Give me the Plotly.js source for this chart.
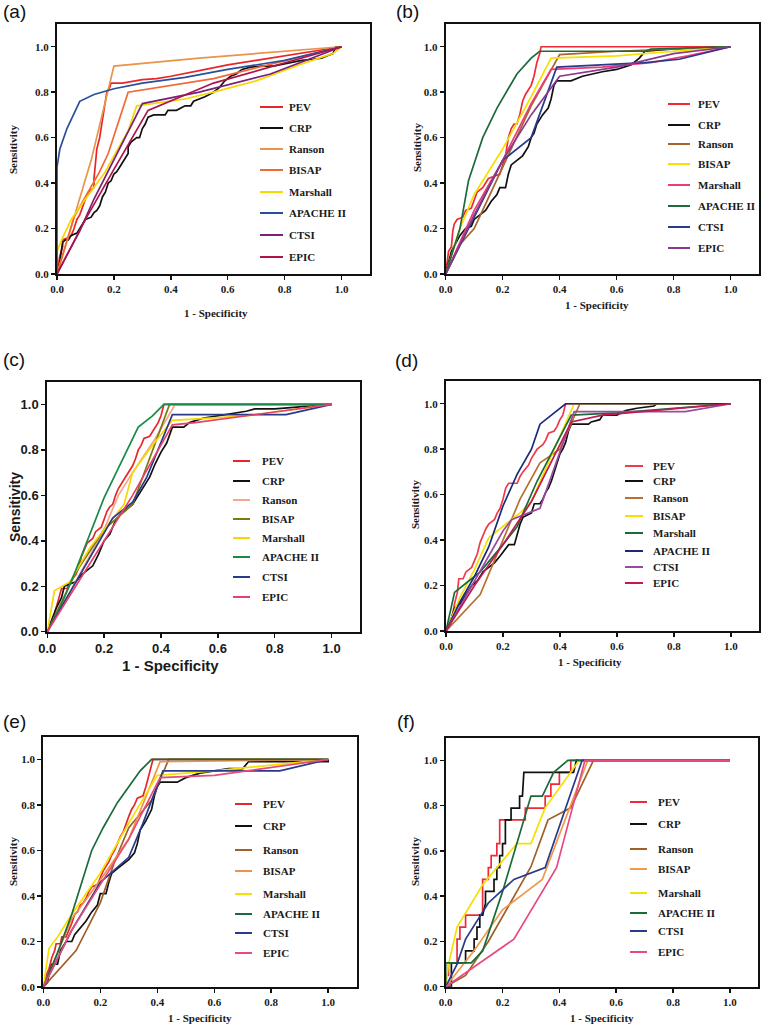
<!DOCTYPE html>
<html>
<head>
<meta charset="utf-8">
<script src="https://cdn.plot.ly/plotly-3.0.1.min.js"></script>
<style>html,body{margin:0;padding:0;background:#fff;}#chart{width:763px;height:1028px;}</style>
</head>
<body>
<div id="chart"></div>
<script>
// ---------- DATA ----------
const seriesNames = ["PEV","CRP","Ranson","BISAP","Marshall","APACHE II","CTSI","EPIC"];
const panelLabels = ["(a)","(b)","(c)","(d)","(e)","(f)"];
const tickVals = [0,0.2,0.4,0.6,0.8,1.0];
const tickText = ["0.0","0.2","0.4","0.6","0.8","1.0"];
const xTitle = "1 - Specificity";
const yTitle = "Sensitivity";

// Panel (a)
const a_PEV = [[0,0],[0.01,0.08],[0.02,0.12],[0.02,0.15],[0.04,0.16],[0.05,0.17],[0.06,0.2],[0.07,0.24],[0.08,0.26],[0.09,0.3],[0.1,0.33],[0.11,0.36],[0.12,0.37],[0.13,0.38],[0.13,0.42],[0.135,0.5],[0.14,0.55],[0.15,0.6],[0.155,0.64],[0.16,0.68],[0.17,0.75],[0.175,0.8],[0.185,0.82],[0.19,0.84],[0.23,0.84],[0.3,0.855],[0.35,0.86],[0.4,0.87],[0.5,0.895],[0.6,0.92],[0.7,0.94],[0.8,0.96],[0.9,0.98],[1,1]];
const a_CRP = [[0,0],[0.01,0.05],[0.015,0.1],[0.02,0.14],[0.03,0.15],[0.04,0.15],[0.05,0.17],[0.07,0.18],[0.08,0.2],[0.09,0.22],[0.1,0.24],[0.12,0.25],[0.13,0.27],[0.14,0.28],[0.15,0.3],[0.16,0.34],[0.17,0.36],[0.18,0.4],[0.19,0.41],[0.2,0.44],[0.21,0.45],[0.22,0.47],[0.23,0.49],[0.24,0.51],[0.25,0.53],[0.25,0.56],[0.26,0.58],[0.27,0.59],[0.28,0.6],[0.29,0.6],[0.3,0.64],[0.31,0.66],[0.32,0.69],[0.34,0.7],[0.38,0.7],[0.39,0.72],[0.42,0.72],[0.45,0.74],[0.47,0.74],[0.48,0.76],[0.52,0.78],[0.55,0.8],[0.57,0.82],[0.59,0.85],[0.61,0.87],[0.63,0.88],[0.65,0.9],[0.68,0.91],[0.72,0.915],[0.76,0.915],[0.8,0.925],[0.83,0.93],[0.86,0.94],[0.9,0.945],[0.93,0.95],[0.95,0.96],[0.97,0.97],[0.98,1],[1,1]];
const a_Ranson = [[0,0],[0.12,0.5],[0.2,0.915],[0.5,0.95],[1,1]];
const a_BISAP = [[0,0],[0.06,0.25],[0.1,0.34],[0.15,0.45],[0.18,0.53],[0.25,0.8],[0.55,0.86],[1,1]];
const a_Marshall = [[0,0],[0,0.1],[0.02,0.16],[0.05,0.24],[0.1,0.33],[0.17,0.45],[0.2,0.52],[0.25,0.63],[0.28,0.74],[0.45,0.77],[0.55,0.8],[0.7,0.85],[0.85,0.92],[0.97,0.97],[1,1]];
const a_APACHE = [[0,0],[0,0.47],[0.01,0.55],[0.035,0.64],[0.08,0.76],[0.13,0.79],[0.2,0.815],[0.3,0.84],[0.45,0.865],[0.6,0.9],[0.8,0.94],[1,1]];
const a_CTSI = [[0,0],[0.08,0.19],[0.13,0.33],[0.2,0.5],[0.3,0.75],[0.5,0.8],[0.75,0.88],[1,1]];
const a_EPIC = [[0,0],[0.1,0.24],[0.2,0.46],[0.32,0.72],[0.55,0.84],[0.8,0.93],[1,1]];

// Panel (b)
const b_PEV = [[0,0],[0.005,0.05],[0.01,0.1],[0.02,0.12],[0.025,0.19],[0.03,0.22],[0.04,0.24],[0.06,0.25],[0.07,0.28],[0.09,0.29],[0.1,0.33],[0.11,0.36],[0.13,0.38],[0.15,0.42],[0.17,0.43],[0.19,0.44],[0.2,0.48],[0.21,0.52],[0.22,0.6],[0.23,0.64],[0.24,0.66],[0.25,0.66],[0.26,0.7],[0.27,0.76],[0.28,0.79],[0.29,0.81],[0.3,0.83],[0.31,0.87],[0.32,0.93],[0.33,0.97],[0.335,1],[1,1]];
const b_CRP = [[0,0],[0.02,0.1],[0.05,0.17],[0.07,0.2],[0.09,0.21],[0.1,0.24],[0.12,0.26],[0.14,0.28],[0.16,0.32],[0.18,0.35],[0.19,0.38],[0.21,0.38],[0.22,0.44],[0.23,0.48],[0.25,0.5],[0.27,0.52],[0.29,0.56],[0.3,0.6],[0.31,0.62],[0.32,0.66],[0.34,0.7],[0.36,0.73],[0.37,0.77],[0.38,0.83],[0.39,0.85],[0.44,0.85],[0.48,0.87],[0.55,0.89],[0.6,0.9],[0.65,0.92],[0.68,0.95],[0.7,0.98],[0.8,0.99],[1,1]];
const b_Ranson = [[0,0],[0.05,0.13],[0.1,0.2],[0.2,0.47],[0.3,0.74],[0.4,0.965],[0.6,0.98],[1,1]];
const b_BISAP = [[0,0],[0.05,0.2],[0.1,0.35],[0.2,0.55],[0.3,0.78],[0.37,0.95],[0.6,0.96],[0.75,0.975],[1,1]];
const b_Marshall = [[0,0],[0.1,0.28],[0.2,0.5],[0.3,0.75],[0.37,0.9],[0.55,0.91],[0.72,0.93],[0.85,0.96],[1,1]];
const b_APACHE = [[0,0],[0.05,0.2],[0.08,0.41],[0.13,0.6],[0.18,0.73],[0.25,0.88],[0.3,0.95],[0.33,0.98],[0.7,0.98],[0.72,0.99],[1,1]];
const b_CTSI = [[0,0],[0.1,0.25],[0.2,0.5],[0.3,0.6],[0.39,0.91],[0.7,0.93],[0.82,0.945],[1,1]];
const b_EPIC = [[0,0],[0.1,0.26],[0.2,0.5],[0.3,0.7],[0.4,0.87],[0.6,0.91],[0.8,0.97],[1,1]];

// Panel (c)
const c_PEV = [[0,0],[0.02,0.05],[0.03,0.1],[0.04,0.14],[0.05,0.19],[0.07,0.19],[0.08,0.22],[0.1,0.25],[0.11,0.28],[0.12,0.33],[0.13,0.36],[0.14,0.39],[0.16,0.41],[0.17,0.44],[0.19,0.46],[0.2,0.5],[0.21,0.53],[0.22,0.55],[0.23,0.56],[0.24,0.6],[0.25,0.63],[0.26,0.65],[0.27,0.67],[0.28,0.69],[0.3,0.73],[0.31,0.76],[0.32,0.8],[0.33,0.82],[0.34,0.85],[0.36,0.86],[0.37,0.88],[0.38,0.9],[0.39,0.92],[0.4,0.95],[0.41,1],[1,1]];
const c_CRP = [[0,0],[0.03,0.1],[0.05,0.15],[0.06,0.2],[0.08,0.21],[0.1,0.22],[0.12,0.25],[0.14,0.27],[0.16,0.29],[0.18,0.34],[0.2,0.4],[0.22,0.43],[0.24,0.49],[0.26,0.52],[0.28,0.54],[0.3,0.56],[0.32,0.6],[0.34,0.64],[0.36,0.68],[0.38,0.74],[0.4,0.79],[0.42,0.83],[0.43,0.87],[0.44,0.9],[0.48,0.9],[0.5,0.92],[0.55,0.94],[0.6,0.95],[0.66,0.96],[0.7,0.97],[0.73,0.98],[0.8,0.98],[1,1]];
const c_Ranson = [[0,0],[0.1,0.22],[0.2,0.45],[0.25,0.6],[0.3,0.7],[0.38,0.85],[0.45,1],[1,1]];
const c_BISAP = [[0,0],[0.1,0.26],[0.2,0.45],[0.3,0.56],[0.43,1],[1,1]];
const c_Marshall = [[0,0],[0.025,0.18],[0.08,0.22],[0.15,0.37],[0.2,0.45],[0.27,0.56],[0.3,0.7],[0.37,0.82],[0.44,0.93],[0.7,0.95],[1,1]];
const c_APACHE = [[0,0],[0.05,0.12],[0.1,0.27],[0.15,0.43],[0.2,0.59],[0.25,0.72],[0.3,0.85],[0.32,0.9],[0.37,0.95],[0.41,1],[1,1]];
const c_CTSI = [[0,0],[0.1,0.22],[0.2,0.44],[0.23,0.5],[0.3,0.57],[0.35,0.68],[0.44,0.955],[0.84,0.955],[1,1]];
const c_EPIC = [[0,0],[0.1,0.2],[0.2,0.4],[0.3,0.6],[0.44,0.91],[0.52,0.92],[1,1]];

// Panel (d)
const d_PEV = [[0,0],[0.02,0.05],[0.03,0.12],[0.04,0.17],[0.045,0.23],[0.06,0.23],[0.07,0.26],[0.09,0.28],[0.1,0.31],[0.11,0.34],[0.12,0.39],[0.13,0.42],[0.14,0.45],[0.15,0.47],[0.17,0.49],[0.18,0.52],[0.19,0.54],[0.2,0.58],[0.21,0.63],[0.22,0.65],[0.25,0.65],[0.26,0.68],[0.27,0.7],[0.29,0.73],[0.3,0.76],[0.31,0.78],[0.32,0.8],[0.34,0.82],[0.35,0.84],[0.36,0.87],[0.38,0.88],[0.39,0.9],[0.4,0.93],[0.41,0.95],[0.42,1],[1,1]];
const d_CRP = [[0,0],[0.02,0.06],[0.03,0.1],[0.05,0.12],[0.07,0.16],[0.09,0.2],[0.11,0.22],[0.13,0.26],[0.15,0.28],[0.17,0.3],[0.19,0.33],[0.21,0.36],[0.22,0.38],[0.24,0.38],[0.25,0.43],[0.26,0.47],[0.27,0.5],[0.3,0.52],[0.31,0.56],[0.33,0.56],[0.34,0.58],[0.35,0.61],[0.36,0.63],[0.37,0.66],[0.38,0.7],[0.39,0.74],[0.4,0.78],[0.41,0.8],[0.42,0.83],[0.43,0.88],[0.44,0.91],[0.5,0.91],[0.51,0.92],[0.54,0.93],[0.55,0.95],[0.6,0.95],[0.63,0.97],[0.67,0.98],[0.73,0.99],[0.74,1],[1,1]];
const d_Ranson = [[0,0],[0.12,0.16],[0.2,0.4],[0.26,0.58],[0.33,0.74],[0.4,0.8],[0.47,1],[1,1]];
const d_BISAP = [[0,0],[0.05,0.15],[0.1,0.27],[0.15,0.41],[0.26,0.52],[0.3,0.57],[0.45,1],[1,1]];
const d_Marshall = [[0,0],[0.03,0.17],[0.07,0.21],[0.12,0.26],[0.2,0.38],[0.25,0.46],[0.32,0.66],[0.44,0.95],[0.6,0.96],[1,1]];
const d_APACHE = [[0,0],[0.05,0.13],[0.1,0.24],[0.15,0.37],[0.2,0.55],[0.25,0.69],[0.3,0.8],[0.33,0.91],[0.38,0.96],[0.42,1],[1,1]];
const d_CTSI = [[0,0],[0.1,0.22],[0.2,0.44],[0.23,0.49],[0.33,0.54],[0.45,0.965],[0.84,0.965],[1,1]];
const d_EPIC = [[0,0],[0.1,0.2],[0.2,0.38],[0.3,0.57],[0.44,0.92],[0.55,0.95],[1,1]];

// Panel (e)
const e_PEV = [[0,0],[0.01,0.05],[0.02,0.08],[0.03,0.13],[0.04,0.16],[0.045,0.19],[0.06,0.19],[0.065,0.22],[0.08,0.22],[0.09,0.25],[0.1,0.28],[0.11,0.32],[0.12,0.33],[0.13,0.36],[0.14,0.37],[0.15,0.39],[0.16,0.42],[0.17,0.44],[0.19,0.45],[0.2,0.48],[0.21,0.51],[0.22,0.53],[0.23,0.55],[0.24,0.58],[0.25,0.6],[0.26,0.63],[0.27,0.66],[0.28,0.68],[0.29,0.72],[0.3,0.75],[0.31,0.78],[0.32,0.8],[0.33,0.83],[0.35,0.84],[0.36,0.88],[0.37,0.93],[0.38,0.97],[0.385,1],[1,1]];
const e_CRP = [[0,0],[0.015,0.02],[0.02,0.06],[0.03,0.1],[0.05,0.1],[0.06,0.16],[0.08,0.2],[0.1,0.2],[0.11,0.23],[0.13,0.26],[0.15,0.29],[0.17,0.33],[0.19,0.36],[0.2,0.41],[0.22,0.41],[0.23,0.46],[0.24,0.5],[0.26,0.52],[0.28,0.54],[0.3,0.56],[0.32,0.59],[0.33,0.63],[0.34,0.69],[0.36,0.73],[0.38,0.78],[0.39,0.84],[0.4,0.88],[0.41,0.9],[0.47,0.9],[0.5,0.92],[0.55,0.94],[0.6,0.95],[0.65,0.96],[0.7,0.96],[0.72,0.99],[1,0.99],[1,1]];
const e_Ranson = [[0,0],[0.115,0.16],[0.2,0.37],[0.25,0.55],[0.3,0.7],[0.38,0.82],[0.44,1],[1,1]];
const e_BISAP = [[0,0],[0.1,0.3],[0.2,0.47],[0.3,0.65],[0.41,0.99],[1,1]];
const e_Marshall = [[0,0],[0.02,0.17],[0.05,0.22],[0.1,0.32],[0.2,0.5],[0.3,0.72],[0.4,0.93],[0.6,0.95],[1,1]];
const e_APACHE = [[0,0],[0.05,0.15],[0.1,0.32],[0.15,0.52],[0.17,0.6],[0.21,0.7],[0.26,0.81],[0.3,0.88],[0.34,0.95],[0.38,1],[1,1]];
const e_CTSI = [[0,0],[0.1,0.25],[0.2,0.46],[0.3,0.57],[0.35,0.72],[0.42,0.95],[0.83,0.95],[1,1]];
const e_EPIC = [[0,0],[0.1,0.25],[0.2,0.45],[0.3,0.65],[0.41,0.92],[0.6,0.93],[1,1]];

// Panel (f)
const f_PEV = [[0,0],[0,0.05],[0.01,0.05],[0.01,0.105],[0.04,0.105],[0.04,0.21],[0.05,0.21],[0.05,0.263],[0.07,0.263],[0.07,0.316],[0.13,0.316],[0.13,0.474],[0.15,0.474],[0.15,0.526],[0.16,0.526],[0.16,0.579],[0.18,0.579],[0.18,0.632],[0.19,0.632],[0.19,0.737],[0.28,0.737],[0.28,0.789],[0.35,0.789],[0.35,0.842],[0.37,0.842],[0.37,0.895],[0.4,0.895],[0.4,0.947],[0.44,0.947],[0.44,1],[1,1]];
const f_CRP = [[0,0],[0.02,0],[0.02,0.105],[0.07,0.105],[0.07,0.158],[0.1,0.158],[0.1,0.21],[0.11,0.21],[0.11,0.263],[0.12,0.263],[0.12,0.316],[0.13,0.316],[0.14,0.368],[0.14,0.421],[0.17,0.421],[0.17,0.474],[0.18,0.474],[0.18,0.526],[0.19,0.526],[0.19,0.579],[0.2,0.579],[0.2,0.632],[0.21,0.632],[0.21,0.737],[0.23,0.737],[0.23,0.789],[0.26,0.789],[0.26,0.842],[0.27,0.842],[0.275,0.947],[0.45,0.947],[0.46,1],[1,1]];
const f_Ranson = [[0,0],[0.07,0.05],[0.15,0.2],[0.3,0.53],[0.36,0.737],[0.44,0.79],[0.52,1],[1,1]];
const f_BISAP = [[0,0],[0.1,0.16],[0.2,0.34],[0.34,0.474],[0.5,1],[1,1]];
const f_Marshall = [[0,0],[0.01,0.1],[0.04,0.263],[0.13,0.45],[0.25,0.632],[0.3,0.632],[0.35,0.79],[0.47,1],[1,1]];
const f_APACHE = [[0,0],[0,0.105],[0.09,0.105],[0.13,0.158],[0.2,0.42],[0.25,0.632],[0.3,0.842],[0.34,0.842],[0.38,0.947],[0.43,1],[1,1]];
const f_CTSI = [[0,0],[0.04,0.1],[0.07,0.21],[0.15,0.37],[0.24,0.474],[0.35,0.526],[0.48,1],[1,1]];
const f_EPIC = [[0,0],[0.24,0.21],[0.39,0.526],[0.49,1],[1,1]];

const panelData = [
  [a_PEV,a_CRP,a_Ranson,a_BISAP,a_Marshall,a_APACHE,a_CTSI,a_EPIC],
  [b_PEV,b_CRP,b_Ranson,b_BISAP,b_Marshall,b_APACHE,b_CTSI,b_EPIC],
  [c_PEV,c_CRP,c_Ranson,c_BISAP,c_Marshall,c_APACHE,c_CTSI,c_EPIC],
  [d_PEV,d_CRP,d_Ranson,d_BISAP,d_Marshall,d_APACHE,d_CTSI,d_EPIC],
  [e_PEV,e_CRP,e_Ranson,e_BISAP,e_Marshall,e_APACHE,e_CTSI,e_EPIC],
  [f_PEV,f_CRP,f_Ranson,f_BISAP,f_Marshall,f_APACHE,f_CTSI,f_EPIC]
];

// ---------- STYLE ----------
const colorsA = ["#e8262a","#111111","#e8944a","#f06a32","#f5d800","#2a4f9a","#7a1f7a","#b0124a"];
const colorsB = ["#ee2a3a","#111111","#a8642a","#f5e000","#ee3a7a","#1f6a3a","#2a3a8a","#8a3a8a"];
const colorsC = ["#e8262a","#111111","#f4a78a","#7a7a10","#f5d800","#1a8a4a","#2a3a8a","#e8406a"];
const colorsD = ["#ee3a4a","#111111","#b87030","#f5e000","#1a6a3a","#1a2a7a","#9a4aa0","#c01a50"];
const colorsE = ["#e8262a","#111111","#a0602a","#f0904a","#f5e000","#1a6a3a","#2a3a8a","#e84a7a"];
const colorsF = ["#ee2a3a","#111111","#a0602a","#f09a50","#f5e000","#1a6a3a","#2a3a8a","#e84a80"];
const panelColors = [colorsA,colorsB,colorsC,colorsD,colorsE,colorsF];

const W = 763, H = 1028;
const PX = v => v / W;
const PY = v => 1 - v / H;

// frame: [left,right,top,bottom] pixels
const frames = [[57,370,24,274],[445.7,759,24,274],[47.3,360,381.7,631.7],[446,759.3,381,631],[43.3,356.7,736.7,987],[445.7,758.3,737.7,986.7]];
const labelPos = [[14,12],[407,12],[14,359],[406,360],[14,721],[406,721]];
const yTitlePos = [[13,150],[417,147],[15,507],[415,505],[13,862],[415,862]];
const xTitlePos = [[216,313],[597,305],[170,665],[590,662],[200,1018],[602,1018]];
const legLine = [[260,283],[668,690],[233,250],[625,643],[235,252],[630,647]];
const legText = [287,696,260,651,261,656];
const legRows = [
  [107,128,149,170,192,213,235,257],
  [104,125,144,164,185,206,227,248],
  [461,481,500,519,538,557,577,597],
  [466,481,498,516,533,551,567,583],
  [804,826,850,871,894,914,933,953],
  [802,824,849,869,893,913,931,952]
];

const SERIF = "Liberation Serif, Times New Roman, serif";
const SANS = "Liberation Sans, Arial, sans-serif";
const serifFont = () => ({family:SERIF, size:11, color:"#1a1a1a", weight:"bold"});
const sansFont = (s) => ({family:SANS, size:s, color:"#1a1a1a", weight:"bold"});

const traces = [];
const layout = {
  width: W, height: H, margin:{l:0,r:0,t:0,b:0},
  paper_bgcolor:"#fff", plot_bgcolor:"#fff", showlegend:false,
  annotations: [], shapes: []
};

panelData.forEach((curves, p) => {
  const sfx = p === 0 ? "" : String(p + 1);
  const fr = frames[p];
  const mkAx = () => ({
    range:[0,1.1], showgrid:false, zeroline:false, showline:true, mirror:true,
    linecolor:"#111", linewidth:2, ticks:"outside", ticklen:4, tickwidth:1.5, tickcolor:"#111",
    tickvals:tickVals, ticktext:tickText, tickfont: p === 2 ? sansFont(13) : serifFont(), fixedrange:true
  });
  layout["xaxis"+sfx] = Object.assign(mkAx(), {domain:[PX(fr[0]),PX(fr[1])], anchor:"y"+sfx});
  layout["yaxis"+sfx] = Object.assign(mkAx(), {domain:[PY(fr[3]),PY(fr[2])], anchor:"x"+sfx});
  curves.forEach((pts, k) => {
    traces.push({
      type:"scatter", mode:"lines", name:seriesNames[k],
      x: pts.map(q => q[0]), y: pts.map(q => q[1]),
      xaxis:"x"+sfx, yaxis:"y"+sfx,
      line:{color:panelColors[p][k], width:1.7},
      hoverinfo:"skip"
    });
  });
  // panel label
  layout.annotations.push({xref:"paper",yref:"paper",x:PX(labelPos[p][0]),y:PY(labelPos[p][1]),xanchor:"center",yanchor:"middle",
    text:panelLabels[p],showarrow:false,font:{family:SANS,size:19,color:"#111"}});
  // axis titles
  layout.annotations.push({xref:"paper",yref:"paper",x:PX(yTitlePos[p][0]),y:PY(yTitlePos[p][1]),xanchor:"center",yanchor:"middle",
    text:yTitle,textangle:-90,showarrow:false,font: p === 2 ? sansFont(14) : serifFont()});
  layout.annotations.push({xref:"paper",yref:"paper",x:PX(xTitlePos[p][0]),y:PY(xTitlePos[p][1]),xanchor:"center",yanchor:"middle",
    text:xTitle,showarrow:false,font: p === 2 ? sansFont(15) : serifFont()});
  // legend
  legRows[p].forEach((ry, k) => {
    layout.shapes.push({type:"line",xref:"paper",yref:"paper",x0:PX(legLine[p][0]),x1:PX(legLine[p][1]),y0:PY(ry),y1:PY(ry),
      line:{color:panelColors[p][k],width:2}});
    layout.annotations.push({xref:"paper",yref:"paper",x:PX(legText[p]),y:PY(ry),xanchor:"left",yanchor:"middle",
      text:seriesNames[k],showarrow:false,font:serifFont()});
  });
});

Plotly.newPlot("chart", traces, layout, {displayModeBar:false, staticPlot:true});
</script>
</body>
</html>
